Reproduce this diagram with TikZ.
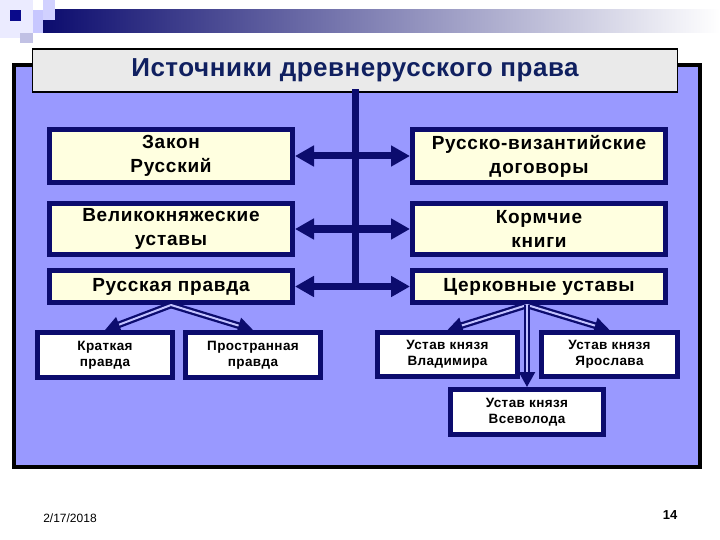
\documentclass[tikz,border=0pt]{standalone}
\usepackage{fontspec}
\setmainfont{Liberation Sans}
\usetikzlibrary{arrows.meta}

\definecolor{navy}{RGB}{12,12,110}
\definecolor{panelblue}{RGB}{153,153,255}
\definecolor{boxyellow}{RGB}{255,255,224}
\definecolor{titlegray}{RGB}{234,234,234}
\definecolor{titleblue}{RGB}{16,32,96}

\tikzset{
  srcbox/.style={draw=navy,line width=5pt,fill=boxyellow,align=center,
    font=\bfseries\fontsize{19}{24}\selectfont\addfontfeature{LetterSpace=4},inner sep=0pt},
  subbox/.style={draw=navy,line width=5pt,fill=white,align=center,
    font=\bfseries\fontsize{13.5}{16}\selectfont\addfontfeature{LetterSpace=3},inner sep=0pt},
  mainarrow/.style={draw=navy,line width=7pt,-{Triangle[length=19pt,width=20pt]}},
  subarrow/.style={draw=navy,line width=2.3pt,double=panelblue!60!white,double distance=2pt,
    -{Triangle[length=15pt,width=16pt]}}
}

\begin{document}
\begin{tikzpicture}[x=1pt,y=-1pt]

\useasboundingbox (0,0) rectangle (720,540);

\shade[left color=navy,right color=white] (43,10) rectangle (720,33);
\fill[blue!8!white]  (0,0) rectangle (33,38);
\fill[blue!22!white] (33,10) rectangle (43,33);
\fill[blue!18!white] (43,0) rectangle (55,20);
\fill[gray!60!blue!35!white] (20,33) rectangle (33,43);
\fill[navy!80!blue]  (10,10) rectangle (21,21);

\draw[line width=4pt,fill=panelblue] (14,65) rectangle (700,467);

\node[draw=black,line width=1.2pt,fill=titlegray,minimum width=645pt,minimum height=43pt,
  font=\bfseries\fontsize{26}{28}\selectfont\addfontfeature{LetterSpace=2},text=titleblue] (title) at (355,70.5)
  {Источники древнерусского права};

\node[srcbox,minimum width=243pt,minimum height=53pt] (zakon)   at (171,156)   {Закон\\Русский};
\node[srcbox,minimum width=243pt,minimum height=51pt] (vkust)   at (171,229)   {Великокняжеские\\уставы};
\node[srcbox,minimum width=243pt,minimum height=32pt] (rpravda) at (171,286.5) {Русская правда};

\node[srcbox,minimum width=253pt,minimum height=53pt] (rvd)    at (539,156)   {Русско-византийские\\договоры};
\node[srcbox,minimum width=253pt,minimum height=51pt] (kormch) at (539,229)   {Кормчие\\книги};
\node[srcbox,minimum width=253pt,minimum height=32pt] (cerkov) at (539,286.5) {Церковные уставы};

\draw[navy,line width=7pt,line cap=rect] (title.south) -- (title.south |- rpravda.east);

\draw[mainarrow] (title.south |- zakon.east)   -- (zakon.east);
\draw[mainarrow] (title.south |- vkust.east)   -- (vkust.east);
\draw[mainarrow] (title.south |- rpravda.east) -- (rpravda.east);
\draw[mainarrow] (title.south |- rvd.west)     -- (rvd.west);
\draw[mainarrow] (title.south |- kormch.west)  -- (kormch.west);
\draw[mainarrow] (title.south |- cerkov.west)  -- (cerkov.west);

\node[subbox,minimum width=135pt,minimum height=45pt] (kratk)  at (105,355)   {Краткая\\правда};
\node[subbox,minimum width=135pt,minimum height=45pt] (prostr) at (253,355)   {Пространная\\правда};
\node[subbox,minimum width=140pt,minimum height=44pt] (vlad)   at (447.5,354.5) {Устав князя\\Владимира};
\node[subbox,minimum width=136pt,minimum height=44pt] (yarosl) at (609.5,354.5) {Устав князя\\Ярослава};
\node[subbox,minimum width=153pt,minimum height=45pt] (vsevol) at (527,412)   {Устав князя\\Всеволода};

\coordinate (cfork) at (vsevol.north |- cerkov.south);

\draw[subarrow] (rpravda.south) -- (kratk.north);
\draw[subarrow] (rpravda.south) -- (prostr.north);
\draw[subarrow] (cfork) -- (vlad.north);
\draw[subarrow] (cfork) -- (yarosl.north);
\draw[subarrow] (cfork) -- (vsevol.north);

\node[font=\fontsize{12}{14}\selectfont] (date) at (70,518) {2/17/2018};
\node[font=\bfseries\fontsize{13}{15}\selectfont] (pagenum) at (670,515) {14};

\end{tikzpicture}
\end{document}
